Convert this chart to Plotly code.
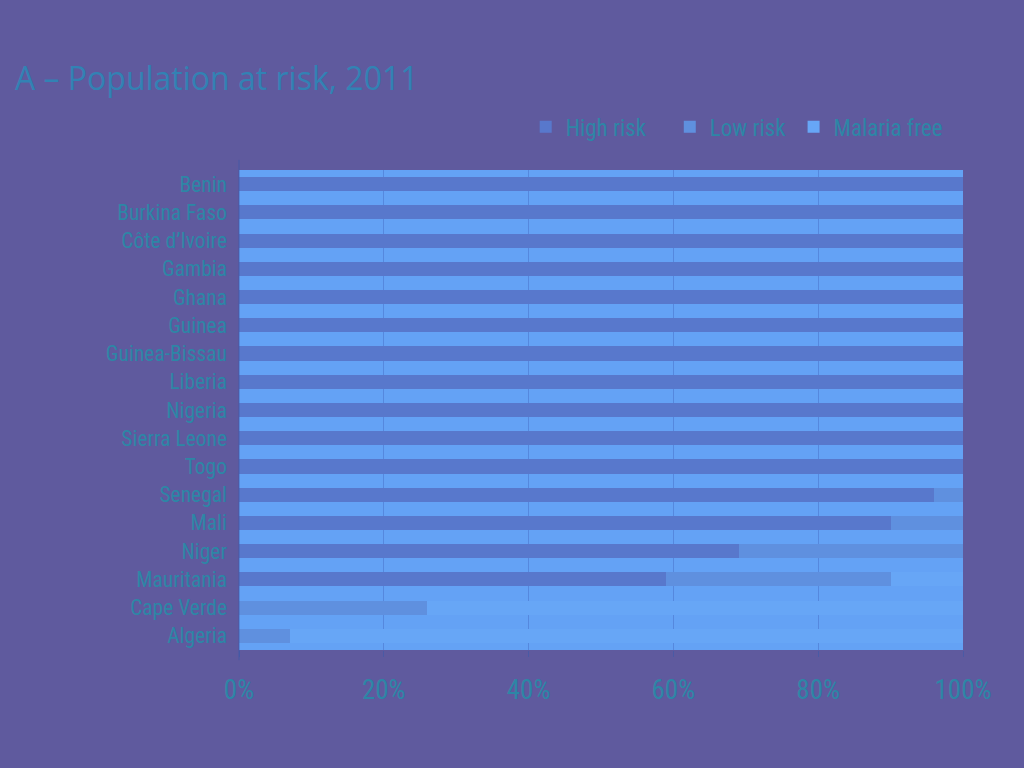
import plotly.graph_objects as go

countries = ["Benin", "Burkina Faso", "Côte d’Ivoire", "Gambia", "Ghana", "Guinea",
             "Guinea-Bissau", "Liberia", "Nigeria", "Sierra Leone", "Togo", "Senegal",
             "Mali", "Niger", "Mauritania", "Cape Verde", "Algeria"]
high_risk = [100, 100, 100, 100, 100, 100, 100, 100, 100, 100, 100, 96, 90, 69, 59, 0, 0]
low_risk = [0, 0, 0, 0, 0, 0, 0, 0, 0, 0, 0, 4, 10, 31, 31, 26, 7]
malaria_free = [0, 0, 0, 0, 0, 0, 0, 0, 0, 0, 0, 0, 0, 0, 10, 74, 93]
x_ticks = [0, 20, 40, 60, 80, 100]
x_tick_labels = ["0%", "20%", "40%", "60%", "80%", "100%"]

FONT = "Liberation Sans Narrow, Roboto Condensed, DejaVu Sans Condensed, sans-serif"
TXT = "#2d86a6"

fig = go.Figure()
series = [("High risk", high_risk, "#5878cc", "legend"),
          ("Low risk", low_risk, "#5f90df", "legend2"),
          ("Malaria free", malaria_free, "#67a6f6", "legend3")]
for name, vals, col, lg in series:
    fig.add_trace(go.Bar(y=countries, x=vals, name=name, orientation="h", legend=lg,
                         marker=dict(color=col, line=dict(width=0)), width=0.5))

def legend_at(x):
    return dict(orientation="h", x=x, xanchor="left", y=1.09, yanchor="middle",
                font=dict(family=FONT, size=23, color=TXT), bgcolor="rgba(0,0,0,0)",
                itemsizing="constant")

fig.update_layout(
    barmode="stack",
    width=1024, height=768,
    paper_bgcolor="#5f5a9e",
    plot_bgcolor="#64a2f5",
    margin=dict(l=239, r=61, t=170, b=118),
    title=dict(text="A – Population at risk, 2011", x=0.0146, xanchor="left",
               y=0.898, yanchor="middle",
               font=dict(family="Open Sans, sans-serif", size=32, color="#3282b4")),
    legend=legend_at(0.396),
    legend2=legend_at(0.595),
    legend3=legend_at(0.766),
    font=dict(family=FONT, color=TXT),
    showlegend=True,
    shapes=[dict(type="line", xref="paper", yref="paper", x0=0, x1=0, y0=-0.021, y1=1.021,
                 line=dict(color="rgba(60,90,170,0.7)", width=1))],
)
fig.update_xaxes(range=[0, 100], tickvals=x_ticks, ticktext=x_tick_labels,
                 showgrid=True, gridcolor="rgba(70,110,200,0.5)", gridwidth=1,
                 zeroline=False, tickfont=dict(family=FONT, size=27, color=TXT),
                 ticks="outside", ticklen=6, tickcolor="rgba(60,90,170,0.6)", ticklabelstandoff=10)
fig.update_yaxes(categoryorder="array", categoryarray=countries, autorange="reversed",
                 showline=False,
                 tickfont=dict(family=FONT, size=21.5, color=TXT), ticks="", ticklabelstandoff=11)

fig.write_html("out.html", post_script="document.body.style.margin='0';",
               config={"displayModeBar": False})
